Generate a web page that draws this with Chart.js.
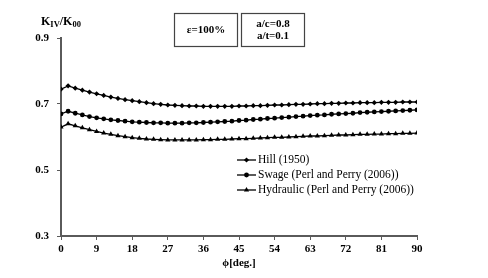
<!DOCTYPE html>
<html lang="en">
<head>
    <meta charset="UTF-8">
    <title>KIV/K00 vs phi</title>
    <style>
        body { margin: 0; padding: 0; background: #fff; }
        #wrap { width: 488px; height: 278px; }
    </style>
    <script src="https://cdn.jsdelivr.net/npm/chart.js"></script>
</head>
<body>
    <div id="wrap"><canvas id="chart" width="488" height="278"></canvas></div>
    <script>
        // angle phi in degrees
        const phi = [0, 1.8, 3.6, 5.4, 7.2, 9, 10.8, 12.6, 14.4, 16.2, 18, 19.8, 21.6, 23.4, 25.2, 27, 28.8, 30.6, 32.4, 34.2,
            36, 37.8, 39.6, 41.4, 43.2, 45, 46.8, 48.6, 50.4, 52.2, 54, 55.8, 57.6, 59.4, 61.2, 63, 64.8, 66.6, 68.4, 70.2,
            72, 73.8, 75.6, 77.4, 79.2, 81, 82.8, 84.6, 86.4, 88.2, 90];

        const hill = [0.745, 0.755, 0.748, 0.742, 0.736, 0.731, 0.726, 0.721, 0.717, 0.713, 0.710, 0.707, 0.704, 0.701, 0.699, 0.697, 0.696, 0.695, 0.694, 0.694,
            0.693, 0.693, 0.693, 0.693, 0.693, 0.694, 0.694, 0.695, 0.695, 0.696, 0.697, 0.697, 0.698, 0.699, 0.699, 0.700, 0.701, 0.701, 0.702, 0.702,
            0.703, 0.703, 0.704, 0.704, 0.704, 0.705, 0.705, 0.705, 0.706, 0.706, 0.706];

        const swage = [0.670, 0.678, 0.672, 0.667, 0.662, 0.658, 0.655, 0.652, 0.650, 0.648, 0.646, 0.645, 0.644, 0.643, 0.643, 0.642, 0.642, 0.642, 0.643, 0.643,
            0.644, 0.645, 0.646, 0.647, 0.648, 0.650, 0.651, 0.653, 0.654, 0.656, 0.657, 0.659, 0.660, 0.662, 0.663, 0.665, 0.666, 0.667, 0.669, 0.670,
            0.671, 0.672, 0.674, 0.675, 0.676, 0.677, 0.678, 0.679, 0.680, 0.681, 0.682];

        const hydraulic = [0.630, 0.640, 0.634, 0.628, 0.622, 0.617, 0.612, 0.608, 0.604, 0.601, 0.598, 0.596, 0.594, 0.593, 0.592, 0.591, 0.591, 0.591, 0.591, 0.591,
            0.592, 0.592, 0.593, 0.593, 0.594, 0.595, 0.595, 0.596, 0.597, 0.598, 0.599, 0.599, 0.600, 0.601, 0.602, 0.603, 0.603, 0.604, 0.605, 0.606,
            0.606, 0.607, 0.608, 0.608, 0.609, 0.609, 0.610, 0.610, 0.611, 0.611, 0.612];

        const xTicks = [0, 9, 18, 27, 36, 45, 54, 63, 72, 81, 90];
        const seriesLabels = ['Hill (1950)', 'Swage (Perl and Perry (2006))', 'Hydraulic (Perl and Perry (2006))'];
        const boxText1 = ['ε=100%'];
        const boxText2 = ['a/c=0.8', 'a/t=0.1'];

        const serif = '"Liberation Serif", "Times New Roman", serif';
        const axisColor = '#5a5a5a';

        function toPoints(values) {
            return phi.map((p, i) => ({ x: p, y: values[i] }));
        }

        function makeSet(label, values, style, radius) {
            return {
                label: label,
                data: toPoints(values),
                borderColor: '#000',
                backgroundColor: '#000',
                borderWidth: 1.3,
                pointStyle: style,
                pointRadius: radius,
                pointBorderWidth: 0,
                tension: 0
            };
        }

        // draws boxes, y title and legend
        const extras = {
            id: 'extras',
            afterDraw(chart) {
                const ctx = chart.ctx;
                ctx.save();
                ctx.fillStyle = '#000';
                ctx.textBaseline = 'middle';

                // y axis title K_IV/K_00
                let x = 41, y = 22;
                const parts = [['K', false], ['IV', true], ['/K', false], ['00', true]];
                parts.forEach(([t, sub]) => {
                    ctx.font = 'bold ' + (sub ? 8.5 : 12) + 'px ' + serif;
                    ctx.fillText(t, x, sub ? y + 3 : y);
                    x += ctx.measureText(t).width;
                });

                // boxes
                ctx.strokeStyle = '#444';
                ctx.lineWidth = 1.2;
                ctx.strokeRect(174.5, 13.5, 63, 33);
                ctx.strokeRect(241.5, 13.5, 63, 33);
                ctx.font = 'bold 11px ' + serif;
                ctx.textAlign = 'center';
                ctx.fillText(boxText1[0], 206, 30);
                ctx.fillText(boxText2[0], 273, 24);
                ctx.fillText(boxText2[1], 273, 36);

                // legend
                ctx.textAlign = 'left';
                ctx.font = '11.5px ' + serif;
                chart.data.datasets.forEach((ds, i) => {
                    const ly = 160 + i * 15;
                    ctx.strokeStyle = '#000';
                    ctx.lineWidth = 1.3;
                    ctx.beginPath();
                    ctx.moveTo(237, ly);
                    ctx.lineTo(256, ly);
                    ctx.stroke();
                    Chart.helpers.drawPoint(ctx, {
                        pointStyle: ds.pointStyle,
                        radius: ds.pointRadius,
                        borderWidth: 0
                    }, 246.5, ly);
                    ctx.fillText(ds.label, 258, ly);
                });
                ctx.restore();
            }
        };

        new Chart(document.getElementById('chart'), {
            type: 'line',
            data: {
                datasets: [
                    makeSet(seriesLabels[0], hill, 'rectRot', 2.6),
                    makeSet(seriesLabels[1], swage, 'circle', 2.4),
                    makeSet(seriesLabels[2], hydraulic, 'triangle', 3)
                ]
            },
            options: {
                responsive: false,
                animation: false,
                layout: { padding: { top: 38, right: 71, left: 0, bottom: 8 } },
                plugins: {
                    legend: { display: false },
                    tooltip: { enabled: false }
                },
                scales: {
                    x: {
                        type: 'linear',
                        min: 0,
                        max: 90,
                        afterFit(scale) { scale.height = 34; },
                        afterBuildTicks(scale) {
                            scale.ticks = xTicks.map(v => ({ value: v }));
                        },
                        border: { display: true, color: axisColor, width: 2 },
                        grid: { drawOnChartArea: false, drawTicks: true, tickLength: 4, color: axisColor, lineWidth: 1 },
                        ticks: {
                            color: '#000',
                            padding: 3,
                            maxRotation: 0,
                            font: { family: serif, size: 11, weight: 'bold' }
                        },
                        title: {
                            display: true,
                            text: 'ϕ[deg.]',
                            color: '#000',
                            padding: { top: 0, bottom: 0 },
                            font: { family: serif, size: 11, weight: 'bold' }
                        }
                    },
                    y: {
                        min: 0.3,
                        max: 0.9,
                        afterFit(scale) { scale.width = 61; },
                        border: { display: true, color: axisColor, width: 2 },
                        grid: { drawOnChartArea: false, drawTicks: true, tickLength: 4, color: axisColor, lineWidth: 1 },
                        ticks: {
                            stepSize: 0.2,
                            color: '#000',
                            padding: 8,
                            font: { family: serif, size: 11, weight: 'bold' },
                            callback: v => v.toFixed(1)
                        }
                    }
                }
            },
            plugins: [extras]
        });
    </script>
</body>
</html>
